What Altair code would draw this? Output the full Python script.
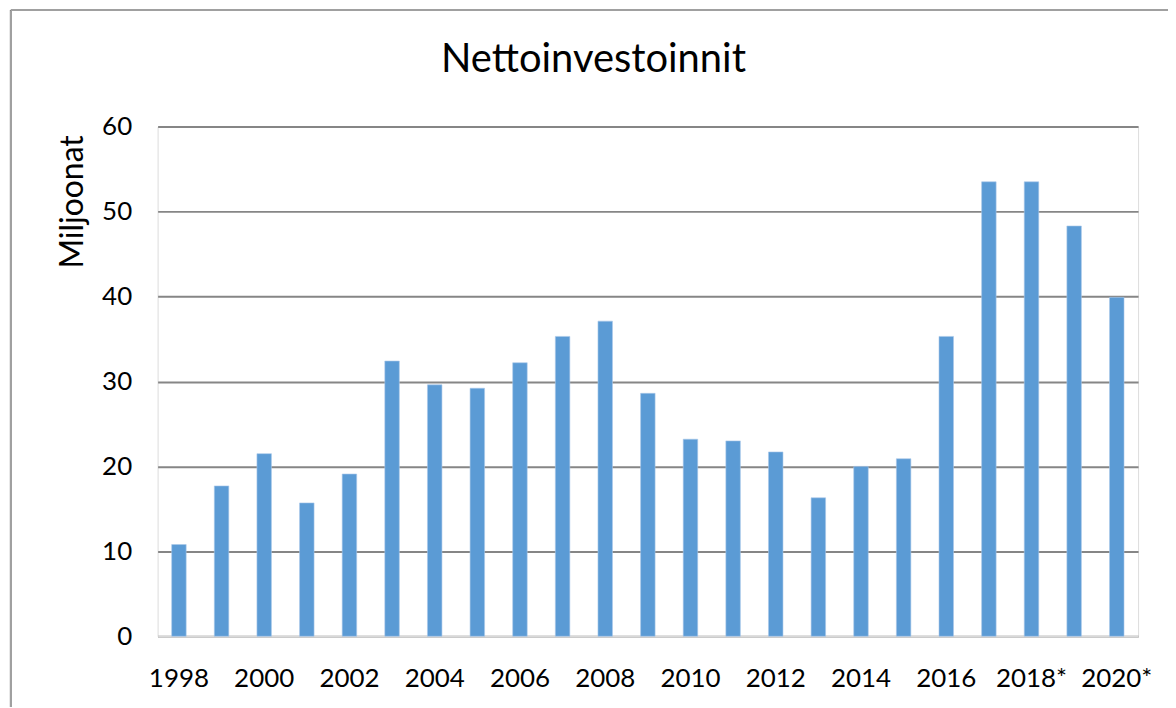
import altair as alt
import pandas as pd

years = ["1998", "1999", "2000", "2001", "2002", "2003", "2004", "2005", "2006", "2007",
         "2008", "2009", "2010", "2011", "2012", "2013", "2014", "2015", "2016", "2017",
         "2018*", "2019*", "2020*"]
values = [10.8, 17.7, 21.5, 15.7, 19.1, 32.4, 29.6, 29.2, 32.2, 35.3,
          37.1, 28.6, 23.2, 23.0, 21.7, 16.3, 20.0, 20.9, 35.3, 53.5,
          53.5, 48.3, 39.9]
shown_labels = years[::2]
y_ticks = [0, 10, 20, 30, 40, 50, 60]
chart_title = "Nettoinvestoinnit"

df = pd.DataFrame({"year": years, "value": values})
FONT = "Lato"

bars = alt.Chart(df).mark_bar(color="#5B9BD5", stroke="#A9C8EA", strokeWidth=0.6).encode(
    x=alt.X("year:N", sort=years,
            scale=alt.Scale(paddingInner=0.66, paddingOuter=0.33),
            axis=alt.Axis(values=shown_labels, title=None, labelAngle=0, ticks=False,
                          domain=True, domainColor="#D9D9D9", domainWidth=2,
                          labelFontSize=26, labelFont=FONT, labelColor="#000000",
                          labelPadding=29, grid=False)),
    y=alt.Y("value:Q", scale=alt.Scale(domain=[0, 60], nice=False),
            axis=alt.Axis(values=y_ticks, title="Miljoonat", ticks=False, domain=False,
                          gridColor="#868686", gridWidth=2,
                          labelFontSize=26, labelFont=FONT, labelColor="#000000",
                          labelPadding=26,
                          titleFont=FONT, titleFontSize=32, titleFontWeight="normal",
                          titleColor="#000000", titleX=-85, titleY=75,
                          titleAngle=270, titleAlign="center", titleBaseline="middle")),
)

frame_left = alt.Chart(df).mark_rule(color="#A0A0A0", strokeWidth=2, clip=False).encode(
    x=alt.value(-147), y=alt.value(-117), y2=alt.value(620),
)
frame_top = alt.Chart(df).mark_rule(color="#A0A0A0", strokeWidth=2, clip=False).encode(
    x=alt.value(-147), x2=alt.value(1040), y=alt.value(-117),
)

title = alt.Chart(pd.DataFrame({"t": [chart_title]})).mark_text(
    font=FONT, fontSize=40, color="#000000", align="center", baseline="alphabetic", clip=False
).encode(text="t:N", x=alt.value(437), y=alt.value(-55))

chart = alt.layer(frame_left, frame_top, bars, title).properties(
    width=983, height=511,
    autosize=alt.AutoSizeParams(type="none"),
    padding={"left": 150, "top": 118, "right": 30, "bottom": 70},
).configure_view(stroke=None).configure(background="white")

chart.save("out.html", embed_options={"renderer": "svg", "actions": False})
